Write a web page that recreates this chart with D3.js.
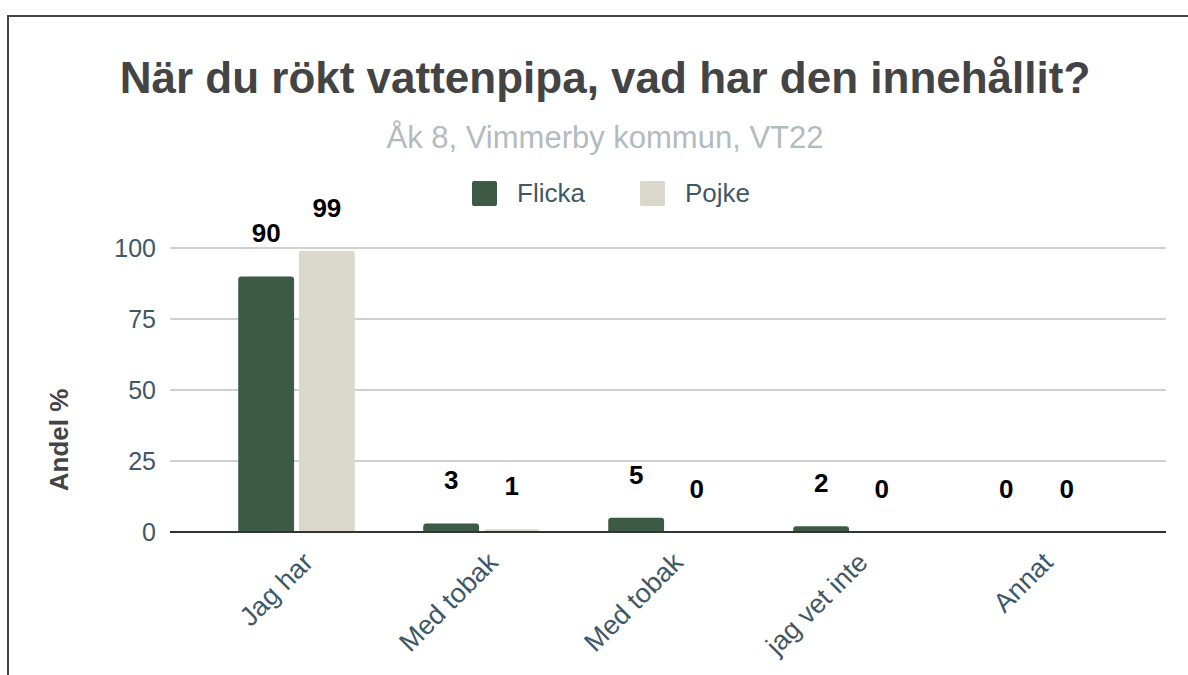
<html>
<head>
<script src="https://d3js.org/d3.v7.min.js"></script>
<style>
  body { margin: 0; background: #fff; }
  text { font-family: "Liberation Sans", Arial, sans-serif; }
</style>
</head>
<body>
<svg width="1188" height="675"></svg>
<script>
  var categories = ["Jag har", "Med tobak", "Med tobak ", "jag vet inte", "Annat"];
  var flicka = [90, 3, 5, 2, 0];
  var pojke = [99, 1, 0, 0, 0];
  var seriesNames = ["Flicka", "Pojke"];
  var yTicks = [0, 25, 50, 75, 100];
  var colors = ["#3c5a46", "#d9d8cb"];

  var svg = d3.select("svg");

  // frame
  svg.append("path")
    .attr("d", "M8,675 V16 H1188")
    .attr("fill", "none")
    .attr("stroke", "#444")
    .attr("stroke-width", 2);

  svg.append("text")
    .attr("x", 605).attr("y", 93)
    .attr("text-anchor", "middle")
    .attr("font-size", 44).attr("font-weight", "bold")
    .attr("fill", "#444")
    .text("När du rökt vattenpipa, vad har den innehållit?");

  svg.append("text")
    .attr("x", 605).attr("y", 148)
    .attr("text-anchor", "middle")
    .attr("font-size", 31)
    .attr("fill", "#b3bbc1")
    .text("Åk 8, Vimmerby kommun, VT22");

  // legend
  var legendX = [472, 640];
  var legend = svg.selectAll("g.legend")
    .data(seriesNames)
    .enter().append("g")
    .attr("class", "legend")
    .attr("transform", (d, i) => "translate(" + legendX[i] + ",181)");
  legend.append("rect")
    .attr("width", 25).attr("height", 25).attr("rx", 2)
    .attr("fill", (d, i) => colors[i]);
  legend.append("text")
    .attr("x", 45).attr("y", 21)
    .attr("font-size", 26)
    .attr("fill", "#3f5866")
    .text(d => d);

  var x0 = d3.scaleBand()
    .domain(categories)
    .range([204, 1129])
    .paddingInner(0.37)
    .paddingOuter(0.185);

  var x1 = d3.scaleBand()
    .domain(seriesNames)
    .range([0, x0.bandwidth()])
    .paddingInner(0.08);

  var y = d3.scaleLinear()
    .domain([0, 100])
    .range([532, 248]);

  // grid
  svg.append("g")
    .selectAll("line")
    .data(yTicks.filter(d => d > 0))
    .enter().append("line")
    .attr("x1", 170).attr("x2", 1166)
    .attr("y1", d => y(d)).attr("y2", d => y(d))
    .attr("stroke", "#d0d0d0").attr("stroke-width", 2);

  var yAxis = svg.append("g")
    .attr("transform", "translate(170,0)")
    .call(d3.axisLeft(y).tickValues(yTicks).tickSize(0).tickPadding(14));
  yAxis.select(".domain").remove();
  yAxis.selectAll("text")
    .attr("font-family", "Liberation Sans, Arial, sans-serif")
    .attr("font-size", 25)
    .attr("fill", "#3f5866");

  svg.append("text")
    .attr("transform", "translate(68,440) rotate(-90)")
    .attr("text-anchor", "middle")
    .attr("font-size", 26).attr("font-weight", "bold")
    .attr("fill", "#444")
    .text("Andel %");

  var rows = categories.map((c, i) => ({ cat: c, vals: [flicka[i], pojke[i]] }));

  function topRounded(x, yTop, w, h, r) {
    r = Math.min(r, h, w / 2);
    if (h <= 0) return "";
    return "M" + x + "," + (yTop + h) +
      " V" + (yTop + r) +
      " Q" + x + "," + yTop + " " + (x + r) + "," + yTop +
      " H" + (x + w - r) +
      " Q" + (x + w) + "," + yTop + " " + (x + w) + "," + (yTop + r) +
      " V" + (yTop + h) + " Z";
  }

  var groups = svg.selectAll("g.cat")
    .data(rows)
    .enter().append("g")
    .attr("class", "cat")
    .attr("transform", d => "translate(" + x0(d.cat) + ",0)");

  var cells = groups.selectAll("g.bar")
    .data(d => d.vals.map((v, i) => ({ v: v, s: seriesNames[i], i: i })))
    .enter().append("g").attr("class", "bar");

  cells.append("path")
    .attr("d", d => topRounded(x1(d.s), y(d.v), x1.bandwidth(), y(0) - y(d.v), 3))
    .attr("fill", d => colors[d.i]);

  cells.append("text")
    .attr("x", d => x1(d.s) + x1.bandwidth() / 2)
    .attr("y", d => y(d.v) - 34)
    .attr("text-anchor", "middle")
    .attr("font-family", "Roboto, sans-serif")
    .attr("font-size", 26).attr("font-weight", "bold")
    .attr("fill", "#000")
    .text(d => d.v);

  // baseline
  svg.append("line")
    .attr("x1", 170).attr("x2", 1166)
    .attr("y1", y(0)).attr("y2", y(0))
    .attr("stroke", "#333").attr("stroke-width", 2);

  var xAxis = svg.append("g")
    .attr("transform", "translate(0," + y(0) + ")")
    .call(d3.axisBottom(x0).tickSize(0).tickPadding(0));
  xAxis.select(".domain").remove();
  xAxis.selectAll("text")
    .attr("font-family", "Liberation Sans, Arial, sans-serif")
    .attr("font-size", 27)
    .attr("fill", "#3f5866")
    .attr("text-anchor", "end")
    .attr("dy", "0")
    .attr("transform", "translate(18,32) rotate(-45)");
</script>
</body>
</html>
